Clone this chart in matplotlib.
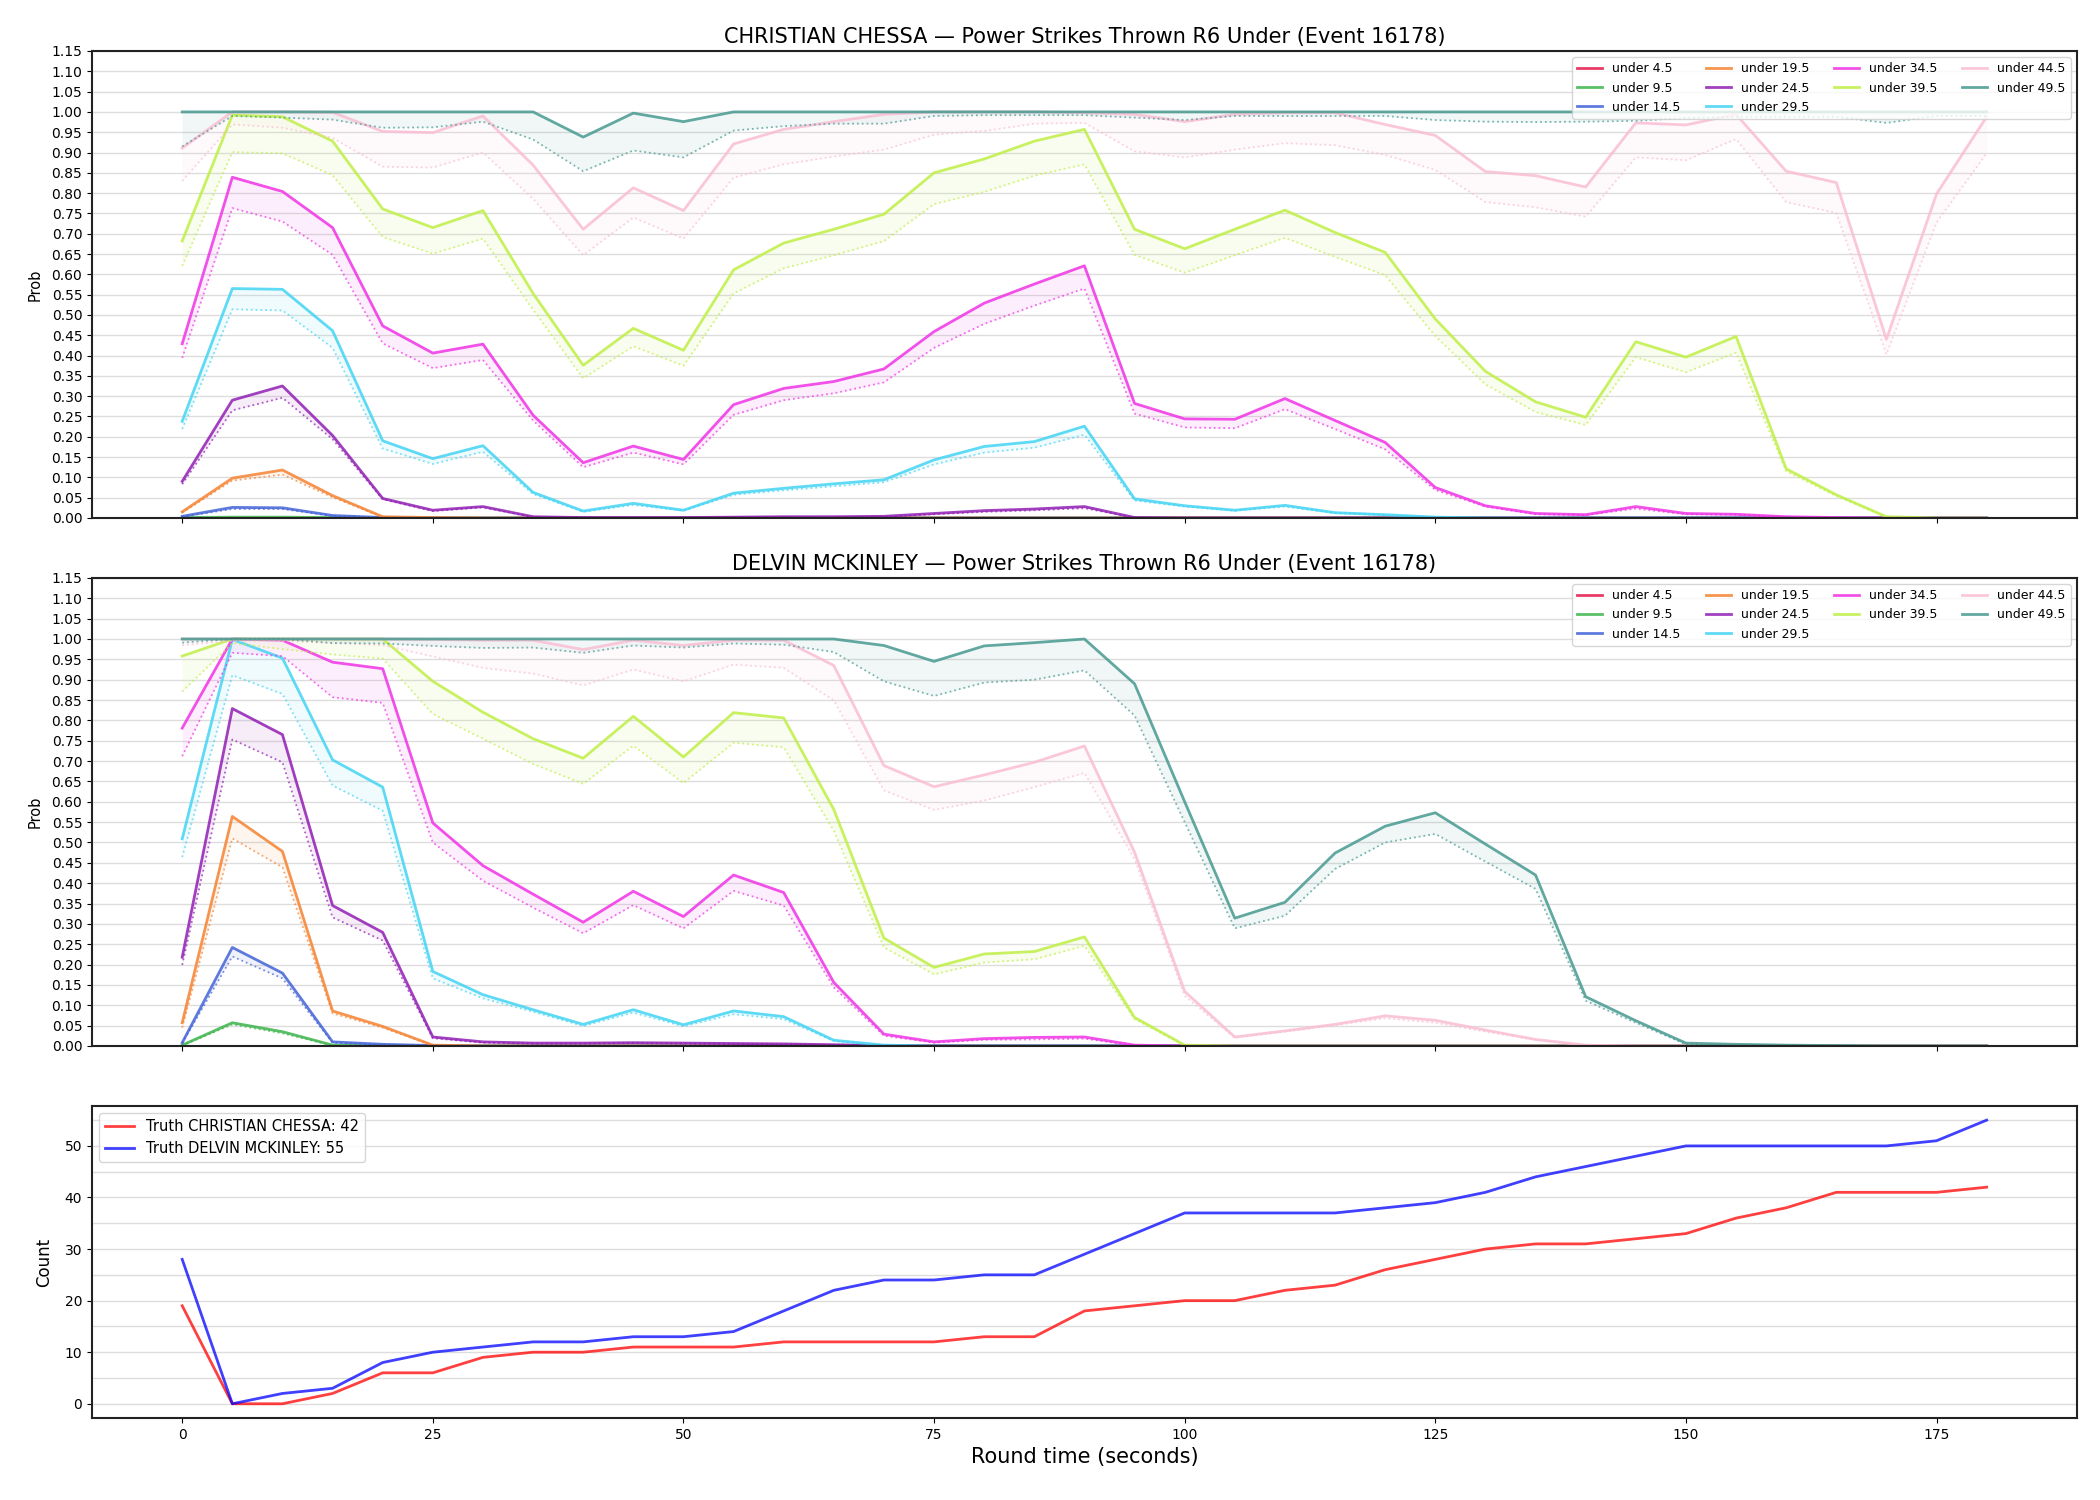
import matplotlib
matplotlib.use('Agg')
import matplotlib.pyplot as plt
from matplotlib.ticker import MultipleLocator

# round time in seconds, one sample every 5 s
times = list(range(0, 181, 5))

thresholds = ['under 4.5', 'under 9.5', 'under 14.5', 'under 19.5', 'under 24.5',
              'under 29.5', 'under 34.5', 'under 39.5', 'under 44.5', 'under 49.5']
colors = ['#e6194B', '#3cb44b', '#4363d8', '#f58231', '#911eb4',
          '#42d4f4', '#f032e6', '#bfef45', '#fabed4', '#469990']

# ---- CHRISTIAN CHESSA: solid line (hi) and dotted line (lo) per threshold ----
chessa_u4_hi = [0, 0, 0, 0, 0, 0, 0, 0, 0, 0, 0, 0, 0, 0, 0, 0, 0, 0, 0, 0,
                0, 0, 0, 0, 0, 0, 0, 0, 0, 0, 0, 0, 0, 0, 0, 0, 0]
chessa_u4_lo = [0, 0, 0, 0, 0, 0, 0, 0, 0, 0, 0, 0, 0, 0, 0, 0, 0, 0, 0, 0,
                0, 0, 0, 0, 0, 0, 0, 0, 0, 0, 0, 0, 0, 0, 0, 0, 0]
chessa_u9_hi = [0.001, 0.002, 0.002, 0.001, 0, 0, 0, 0, 0, 0, 0, 0, 0, 0, 0, 0, 0, 0, 0, 0,
                0, 0, 0, 0, 0, 0, 0, 0, 0, 0, 0, 0, 0, 0, 0, 0, 0]
chessa_u9_lo = [0.001, 0.001, 0.001, 0, 0, 0, 0, 0, 0, 0, 0, 0, 0, 0, 0, 0, 0, 0, 0, 0,
                0, 0, 0, 0, 0, 0, 0, 0, 0, 0, 0, 0, 0, 0, 0, 0, 0]
chessa_u14_hi = [0.004, 0.026, 0.025, 0.006, 0.001, 0, 0, 0, 0, 0, 0, 0, 0, 0, 0, 0, 0, 0, 0, 0,
                 0, 0, 0, 0, 0, 0, 0, 0, 0, 0, 0, 0, 0, 0, 0, 0, 0]
chessa_u14_lo = [0.003, 0.022, 0.022, 0.005, 0.001, 0, 0, 0, 0, 0, 0, 0, 0, 0, 0, 0, 0, 0, 0, 0,
                 0, 0, 0, 0, 0, 0, 0, 0, 0, 0, 0, 0, 0, 0, 0, 0, 0]
chessa_u19_hi = [0.015, 0.098, 0.118, 0.055, 0.003, 0.001, 0, 0, 0, 0, 0, 0, 0, 0, 0, 0, 0, 0, 0, 0,
                 0, 0, 0, 0, 0, 0, 0, 0, 0, 0, 0, 0, 0, 0, 0, 0, 0]
chessa_u19_lo = [0.013, 0.092, 0.107, 0.051, 0.002, 0.001, 0, 0, 0, 0, 0, 0, 0, 0, 0, 0, 0, 0, 0, 0,
                 0, 0, 0, 0, 0, 0, 0, 0, 0, 0, 0, 0, 0, 0, 0, 0, 0]
chessa_u24_hi = [0.09, 0.29, 0.325, 0.203, 0.048, 0.019, 0.028, 0.003, 0.001, 0.001,
                 0.001, 0.002, 0.003, 0.003, 0.004, 0.011, 0.018, 0.022, 0.028, 0.001,
                 0, 0, 0, 0, 0, 0, 0, 0, 0, 0, 0, 0, 0, 0, 0, 0, 0]
chessa_u24_lo = [0.083, 0.265, 0.296, 0.194, 0.046, 0.017, 0.026, 0.002, 0.001, 0.001,
                 0.001, 0.002, 0.002, 0.002, 0.003, 0.009, 0.015, 0.019, 0.024, 0.001,
                 0, 0, 0, 0, 0, 0, 0, 0, 0, 0, 0, 0, 0, 0, 0, 0, 0]
chessa_u29_hi = [0.238, 0.565, 0.563, 0.461, 0.19, 0.146, 0.178, 0.063, 0.017, 0.036,
                 0.019, 0.061, 0.073, 0.084, 0.094, 0.143, 0.176, 0.188, 0.226, 0.047,
                 0.03, 0.019, 0.031, 0.013, 0.008, 0.002, 0, 0, 0, 0, 0, 0, 0, 0, 0, 0, 0]
chessa_u29_lo = [0.219, 0.514, 0.511, 0.419, 0.171, 0.133, 0.163, 0.059, 0.015, 0.032,
                 0.018, 0.057, 0.068, 0.078, 0.088, 0.132, 0.161, 0.173, 0.205, 0.043,
                 0.028, 0.018, 0.028, 0.012, 0.007, 0.002, 0, 0, 0, 0, 0, 0, 0, 0, 0, 0, 0]
chessa_u34_hi = [0.429, 0.839, 0.804, 0.715, 0.473, 0.406, 0.428, 0.253, 0.136, 0.177,
                 0.144, 0.279, 0.319, 0.336, 0.367, 0.459, 0.529, 0.576, 0.621, 0.282,
                 0.244, 0.243, 0.294, 0.24, 0.186, 0.075, 0.03, 0.011, 0.008, 0.028,
                 0.011, 0.009, 0.003, 0.001, 0, 0, 0]
chessa_u34_lo = [0.394, 0.763, 0.73, 0.648, 0.43, 0.369, 0.389, 0.24, 0.125, 0.161,
                 0.132, 0.254, 0.29, 0.307, 0.334, 0.419, 0.478, 0.523, 0.565, 0.257,
                 0.223, 0.221, 0.268, 0.219, 0.169, 0.069, 0.028, 0.009, 0.007, 0.023,
                 0.009, 0.008, 0.002, 0.001, 0, 0, 0]
chessa_u39_hi = [0.682, 0.992, 0.988, 0.928, 0.761, 0.715, 0.757, 0.553, 0.376, 0.467,
                 0.413, 0.611, 0.677, 0.711, 0.748, 0.85, 0.884, 0.928, 0.957, 0.711,
                 0.663, 0.711, 0.758, 0.703, 0.654, 0.49, 0.361, 0.286, 0.248, 0.434,
                 0.396, 0.447, 0.121, 0.057, 0.003, 0, 0]
chessa_u39_lo = [0.621, 0.901, 0.898, 0.844, 0.692, 0.651, 0.688, 0.513, 0.344, 0.423,
                 0.375, 0.553, 0.615, 0.647, 0.682, 0.773, 0.803, 0.843, 0.871, 0.648,
                 0.604, 0.647, 0.69, 0.643, 0.598, 0.448, 0.329, 0.261, 0.229, 0.396,
                 0.359, 0.407, 0.115, 0.054, 0.002, 0, 0]
chessa_u44_hi = [0.911, 1.0, 1.0, 0.999, 0.952, 0.949, 0.99, 0.869, 0.711, 0.813,
                 0.757, 0.921, 0.957, 0.976, 0.994, 1.0, 1.0, 1.0, 0.998, 0.994,
                 0.976, 0.994, 0.998, 0.998, 0.969, 0.942, 0.853, 0.843, 0.815, 0.973,
                 0.968, 0.994, 0.854, 0.826, 0.44, 0.798, 0.988]
chessa_u44_lo = [0.83, 0.969, 0.961, 0.936, 0.865, 0.863, 0.9, 0.786, 0.647, 0.74,
                 0.688, 0.838, 0.871, 0.89, 0.907, 0.944, 0.953, 0.971, 0.973, 0.903,
                 0.888, 0.907, 0.923, 0.918, 0.894, 0.857, 0.778, 0.765, 0.742, 0.888,
                 0.881, 0.933, 0.778, 0.751, 0.403, 0.728, 0.898]
chessa_u49_hi = [1.0, 1.0, 1.0, 1.0, 1.0, 1.0, 1.0, 1.0, 0.938, 0.997,
                 0.976, 1.0, 1.0, 1.0, 1.0, 1.0, 1.0, 1.0, 1.0, 1.0,
                 1.0, 1.0, 1.0, 1.0, 1.0, 1.0, 1.0, 1.0, 1.0, 1.0,
                 1.0, 1.0, 1.0, 1.0, 1.0, 1.0, 1.0]
chessa_u49_lo = [0.915, 0.99, 0.986, 0.981, 0.961, 0.962, 0.976, 0.932, 0.854, 0.905,
                 0.888, 0.954, 0.965, 0.971, 0.971, 0.99, 0.992, 0.992, 0.992, 0.986,
                 0.98, 0.99, 0.99, 0.99, 0.99, 0.98, 0.976, 0.975, 0.976, 0.978,
                 0.985, 0.988, 0.988, 0.988, 0.973, 0.99, 0.99]

# ---- DELVIN MCKINLEY ----
mck_u4_hi = [0, 0, 0, 0, 0, 0, 0, 0, 0, 0, 0, 0, 0, 0, 0, 0, 0, 0, 0, 0,
             0, 0, 0, 0, 0, 0, 0, 0, 0, 0, 0, 0, 0, 0, 0, 0, 0]
mck_u4_lo = [0, 0, 0, 0, 0, 0, 0, 0, 0, 0, 0, 0, 0, 0, 0, 0, 0, 0, 0, 0,
             0, 0, 0, 0, 0, 0, 0, 0, 0, 0, 0, 0, 0, 0, 0, 0, 0]
mck_u9_hi = [0.002, 0.057, 0.035, 0.002, 0, 0, 0, 0, 0, 0, 0, 0, 0, 0, 0, 0, 0, 0, 0, 0,
             0, 0, 0, 0, 0, 0, 0, 0, 0, 0, 0, 0, 0, 0, 0, 0, 0]
mck_u9_lo = [0.001, 0.053, 0.031, 0.001, 0, 0, 0, 0, 0, 0, 0, 0, 0, 0, 0, 0, 0, 0, 0, 0,
             0, 0, 0, 0, 0, 0, 0, 0, 0, 0, 0, 0, 0, 0, 0, 0, 0]
mck_u14_hi = [0.008, 0.242, 0.179, 0.01, 0.004, 0.001, 0, 0, 0, 0, 0, 0, 0, 0, 0, 0, 0, 0, 0, 0,
              0, 0, 0, 0, 0, 0, 0, 0, 0, 0, 0, 0, 0, 0, 0, 0, 0]
mck_u14_lo = [0.007, 0.22, 0.166, 0.008, 0.003, 0.001, 0, 0, 0, 0, 0, 0, 0, 0, 0, 0, 0, 0, 0, 0,
              0, 0, 0, 0, 0, 0, 0, 0, 0, 0, 0, 0, 0, 0, 0, 0, 0]
mck_u19_hi = [0.057, 0.564, 0.478, 0.086, 0.048, 0.002, 0, 0, 0, 0, 0, 0, 0, 0, 0, 0, 0, 0, 0, 0,
              0, 0, 0, 0, 0, 0, 0, 0, 0, 0, 0, 0, 0, 0, 0, 0, 0]
mck_u19_lo = [0.045, 0.51, 0.439, 0.08, 0.045, 0.001, 0, 0, 0, 0, 0, 0, 0, 0, 0, 0, 0, 0, 0, 0,
              0, 0, 0, 0, 0, 0, 0, 0, 0, 0, 0, 0, 0, 0, 0, 0, 0]
mck_u24_hi = [0.218, 0.829, 0.765, 0.345, 0.279, 0.022, 0.01, 0.007, 0.007, 0.008,
              0.007, 0.006, 0.005, 0.003, 0.001, 0, 0, 0, 0, 0,
              0, 0, 0, 0, 0, 0, 0, 0, 0, 0, 0, 0, 0, 0, 0, 0, 0]
mck_u24_lo = [0.199, 0.753, 0.697, 0.316, 0.259, 0.019, 0.008, 0.006, 0.006, 0.007,
              0.006, 0.005, 0.004, 0.002, 0.001, 0, 0, 0, 0, 0,
              0, 0, 0, 0, 0, 0, 0, 0, 0, 0, 0, 0, 0, 0, 0, 0, 0]
mck_u29_hi = [0.509, 0.999, 0.953, 0.703, 0.636, 0.183, 0.126, 0.089, 0.053, 0.089,
              0.052, 0.086, 0.072, 0.014, 0.002, 0, 0, 0, 0, 0,
              0, 0, 0, 0, 0, 0, 0, 0, 0, 0, 0, 0, 0, 0, 0, 0, 0]
mck_u29_lo = [0.464, 0.911, 0.865, 0.64, 0.578, 0.166, 0.117, 0.084, 0.049, 0.082,
              0.048, 0.078, 0.066, 0.012, 0.001, 0, 0, 0, 0, 0,
              0, 0, 0, 0, 0, 0, 0, 0, 0, 0, 0, 0, 0, 0, 0, 0, 0]
mck_u34_hi = [0.781, 1.0, 0.997, 0.943, 0.927, 0.548, 0.443, 0.373, 0.304, 0.38,
              0.318, 0.42, 0.377, 0.156, 0.029, 0.01, 0.018, 0.021, 0.022, 0.002,
              0, 0, 0, 0, 0, 0, 0, 0, 0, 0, 0, 0, 0, 0, 0, 0, 0]
mck_u34_lo = [0.712, 0.966, 0.958, 0.857, 0.843, 0.5, 0.406, 0.34, 0.277, 0.346,
              0.289, 0.381, 0.345, 0.144, 0.025, 0.008, 0.015, 0.016, 0.018, 0.001,
              0, 0, 0, 0, 0, 0, 0, 0, 0, 0, 0, 0, 0, 0, 0, 0, 0]
mck_u39_hi = [0.958, 1.0, 1.0, 1.0, 1.0, 0.896, 0.82, 0.755, 0.707, 0.81,
              0.71, 0.819, 0.806, 0.581, 0.265, 0.193, 0.226, 0.232, 0.268, 0.07,
              0.002, 0, 0, 0, 0, 0, 0, 0, 0, 0, 0, 0, 0, 0, 0, 0, 0]
mck_u39_lo = [0.871, 0.99, 0.975, 0.962, 0.952, 0.816, 0.755, 0.693, 0.644, 0.738,
              0.646, 0.745, 0.734, 0.529, 0.242, 0.176, 0.205, 0.213, 0.246, 0.066,
              0.001, 0, 0, 0, 0, 0, 0, 0, 0, 0, 0, 0, 0, 0, 0, 0, 0]
mck_u44_hi = [1.0, 1.0, 1.0, 1.0, 1.0, 0.999, 0.997, 0.997, 0.974, 0.997,
              0.984, 0.997, 0.997, 0.935, 0.689, 0.637, 0.666, 0.697, 0.737, 0.476,
              0.134, 0.022, 0.037, 0.053, 0.074, 0.063, 0.039, 0.016, 0.002, 0,
              0, 0, 0, 0, 0, 0, 0]
mck_u44_lo = [0.985, 0.995, 0.995, 0.99, 0.985, 0.957, 0.929, 0.915, 0.886, 0.925,
              0.896, 0.937, 0.929, 0.849, 0.628, 0.58, 0.603, 0.636, 0.671, 0.459,
              0.123, 0.02, 0.035, 0.051, 0.068, 0.057, 0.035, 0.015, 0.001, 0,
              0, 0, 0, 0, 0, 0, 0]
mck_u49_hi = [1.0, 1.0, 1.0, 1.0, 1.0, 1.0, 1.0, 1.0, 1.0, 1.0,
              1.0, 1.0, 1.0, 1.0, 0.984, 0.945, 0.983, 0.991, 1.0, 0.89,
              0.6, 0.314, 0.353, 0.474, 0.54, 0.573, 0.496, 0.42, 0.121, 0.062,
              0.007, 0.004, 0.002, 0.001, 0, 0, 0]
mck_u49_lo = [0.991, 1.0, 1.0, 0.99, 0.989, 0.983, 0.978, 0.979, 0.966, 0.984,
              0.979, 0.989, 0.986, 0.968, 0.896, 0.86, 0.893, 0.9, 0.923, 0.812,
              0.55, 0.289, 0.32, 0.435, 0.5, 0.521, 0.453, 0.386, 0.111, 0.057,
              0.004, 0.002, 0.001, 0, 0, 0, 0]

# ---- truth counts ----
truth_chessa = [19, 0, 0, 2, 6, 6, 9, 10, 10, 11, 11, 11, 12, 12, 12, 12, 13, 13, 18, 19,
                20, 20, 22, 23, 26, 28, 30, 31, 31, 32, 33, 36, 38, 41, 41, 41, 42]
truth_mck = [28, 0, 2, 3, 8, 10, 11, 12, 12, 13, 13, 14, 18, 22, 24, 24, 25, 25, 29, 33,
             37, 37, 37, 37, 38, 39, 41, 44, 46, 48, 50, 50, 50, 50, 50, 51, 55]

chessa_hi = [chessa_u4_hi, chessa_u9_hi, chessa_u14_hi, chessa_u19_hi, chessa_u24_hi,
             chessa_u29_hi, chessa_u34_hi, chessa_u39_hi, chessa_u44_hi, chessa_u49_hi]
chessa_lo = [chessa_u4_lo, chessa_u9_lo, chessa_u14_lo, chessa_u19_lo, chessa_u24_lo,
             chessa_u29_lo, chessa_u34_lo, chessa_u39_lo, chessa_u44_lo, chessa_u49_lo]
mck_hi = [mck_u4_hi, mck_u9_hi, mck_u14_hi, mck_u19_hi, mck_u24_hi,
          mck_u29_hi, mck_u34_hi, mck_u39_hi, mck_u44_hi, mck_u49_hi]
mck_lo = [mck_u4_lo, mck_u9_lo, mck_u14_lo, mck_u19_lo, mck_u24_lo,
          mck_u29_lo, mck_u34_lo, mck_u39_lo, mck_u44_lo, mck_u49_lo]


def style_spines(ax):
    for s in ax.spines.values():
        s.set_color('#222222')
        s.set_linewidth(1.5)


def draw_panel(ax, hi_list, lo_list, title):
    for label, color, hi, lo in zip(thresholds, colors, hi_list, lo_list):
        ax.plot(times, hi, color=color, lw=2, alpha=0.85, label=label)
        ax.plot(times, lo, color=color, lw=1.3, ls=':', alpha=0.7)
        ax.fill_between(times, lo, hi, color=color, alpha=0.08, lw=0)
    ax.set_ylim(0, 1.15)
    ax.yaxis.set_major_locator(MultipleLocator(0.05))
    ax.grid(axis='y', color='#dddddd', lw=1)
    ax.set_axisbelow(True)
    ax.set_ylabel('Prob', fontsize=10.5, labelpad=6)
    ax.set_title(title, fontsize=15)
    ax.legend(loc='upper right', ncol=4, fontsize=9)
    ax.tick_params(labelbottom=False)
    style_spines(ax)


fig = plt.figure(figsize=(21, 15), dpi=100)
ax1 = fig.add_axes([0.0438, 0.6547, 0.9452, 0.3113])
ax2 = fig.add_axes([0.0438, 0.3027, 0.9452, 0.312], sharex=ax1)
ax3 = fig.add_axes([0.0438, 0.0547, 0.9452, 0.208], sharex=ax1)

draw_panel(ax1, chessa_hi, chessa_lo, 'CHRISTIAN CHESSA \u2014 Power Strikes Thrown R6 Under (Event 16178)')
draw_panel(ax2, mck_hi, mck_lo, 'DELVIN MCKINLEY \u2014 Power Strikes Thrown R6 Under (Event 16178)')

ax3.plot(times, truth_chessa, color='red', lw=2, alpha=0.75, label='Truth CHRISTIAN CHESSA: 42')
ax3.plot(times, truth_mck, color='blue', lw=2, alpha=0.75, label='Truth DELVIN MCKINLEY: 55')
ax3.yaxis.set_major_locator(MultipleLocator(10))
ax3.yaxis.set_minor_locator(MultipleLocator(5))
ax3.tick_params(axis='y', which='minor', length=0)
ax3.grid(axis='y', which='both', color='#dddddd', lw=1)
ax3.set_axisbelow(True)
ax3.set_ylabel('Count', fontsize=12, labelpad=8)
ax3.set_xlabel('Round time (seconds)', fontsize=15)
ax3.legend(loc='upper left', fontsize=10.5)
style_spines(ax3)

fig.savefig('out.png', dpi=100)
